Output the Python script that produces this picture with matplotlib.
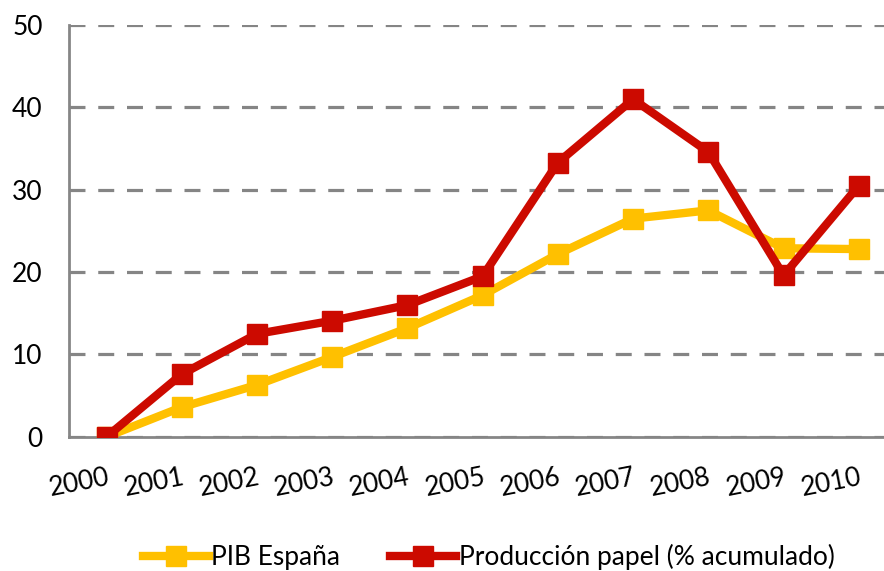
import matplotlib
matplotlib.use("Agg")
import matplotlib.pyplot as plt

years = ["2000", "2001", "2002", "2003", "2004", "2005",
         "2006", "2007", "2008", "2009", "2010"]
pib = [0, 3.6, 6.3, 9.7, 13.2, 17.2, 22.2, 26.5, 27.5, 22.9, 22.8]
papel = [0, 7.6, 12.5, 14.1, 16.0, 19.5, 33.3, 41.0, 34.6, 19.6, 30.5]

plt.rcParams["font.family"] = ["Lato", "DejaVu Sans"]

fig = plt.figure(figsize=(8.84, 5.71), dpi=100)
ax = fig.add_axes([0.078, 0.235, 0.936, 0.721])

x = range(len(years))
ax.plot(x, pib, color="#FFC000", linewidth=6, marker="s", markersize=14,
        label="PIB España", zorder=3)
ax.plot(x, papel, color="#CC0A00", linewidth=6, marker="s", markersize=14,
        label="Producción papel (% acumulado)", zorder=4)

ax.set_xlim(-0.5, 10.5)
ax.set_ylim(0, 50)
ax.set_yticks([0, 10, 20, 30, 40, 50])
ax.set_xticks(list(x))
ax.set_xticklabels(years, rotation=11, ha="right", rotation_mode="anchor")

ax.grid(axis="y", color="#858585", linestyle=(0, (5, 4)), linewidth=2.3)
ax.set_axisbelow(True)
for s in ["top", "right"]:
    ax.spines[s].set_visible(False)
for s in ["left", "bottom"]:
    ax.spines[s].set_color("#868686")
    ax.spines[s].set_linewidth(2)
ax.tick_params(axis="both", length=0, labelsize=19)
ax.tick_params(axis="y", pad=19)
ax.tick_params(axis="x", pad=20)

fig.legend(loc="center", bbox_to_anchor=(0.553, 0.025), ncol=2, frameon=False,
           fontsize=19, handlelength=2.5, handletextpad=0.1, columnspacing=1.9)

fig.savefig("out.png", dpi=100)
